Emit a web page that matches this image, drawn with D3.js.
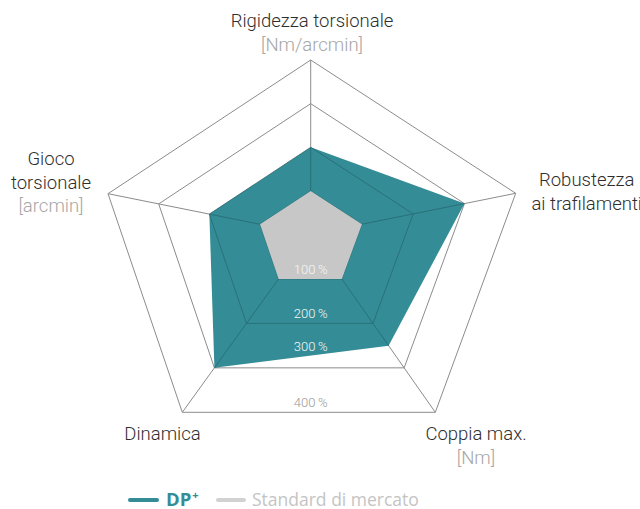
<!DOCTYPE html>
<html>
<head>
<meta charset="utf-8">
<script src="https://cdn.jsdelivr.net/npm/d3@7/dist/d3.min.js"></script>
<style>
  html, body { margin: 0; padding: 0; background: #fff; }
  svg { display: block; }
</style>
</head>
<body>
<svg id="chart" width="640" height="509"></svg>
<script>
// ---- data ----
const axisTitles = [
  ["Rigidezza torsionale"],
  ["Robustezza", "ai trafilamenti"],
  ["Coppia max."],
  ["Dinamica"],
  ["Gioco", "torsionale"]
];
const axisUnits = ["[Nm/arcmin]", "", "[Nm]", "", "[arcmin]"];
const dpPlus = [200, 300, 250, 300, 200];
const standard = [100, 100, 100, 100, 100];
const ringTicks = [100, 200, 300, 400];
const ringLabels = ["100\u2009%", "200\u2009%", "300\u2009%", "400\u2009%"];
const seriesNames = ["DP", "Standard di mercato"];

// ---- layout ----
const W = 640, H = 509;
const center = { x: 310.7, y: 234.5 };
// outer (400 %) vertex of each spoke, relative to the centre
const spokes = [
  { dx: 0, dy: -174.5 },
  { dx: 205, dy: -41.2 },
  { dx: 124.6, dy: 177.8 },
  { dx: -128.4, dy: 177.8 },
  { dx: -202.7, dy: -40.8 }
];
// first-line anchor of each axis title, relative to its outer vertex
const titleAnchor = [
  { dx: 1.3, dy: -33 },
  { dx: 71, dy: -7.3 },
  { dx: 40.7, dy: 27.7 },
  { dx: -19.8, dy: 27.7 },
  { dx: -57, dy: -28.7 }
];
const lineGap = 23.5;

const colors = {
  dp: "#348c96",
  dpGrid: "#2a7179",
  std: "#c6c7c6",
  grid: "#8c8c8c",
  title: "#2e2e2e",
  unit: "#a6a6a6",
  legendStd: "#c4c4c4"
};

const r = d3.scaleLinear().domain([0, d3.max(ringTicks)]).range([0, 1]);
const pt = (i, v) => [center.x + spokes[i].dx * r(v), center.y + spokes[i].dy * r(v)];
const ringPoints = v => spokes.map((_, i) => pt(i, v));
const closed = d3.line().curve(d3.curveLinearClosed);

const svg = d3.select("#chart");

function drawGrid(g, stroke) {
  g.selectAll("path.ring")
    .data(ringTicks)
    .join("path")
    .attr("class", "ring")
    .attr("d", v => closed(ringPoints(v)))
    .attr("fill", "none")
    .attr("stroke", stroke)
    .attr("stroke-width", 1);
  g.selectAll("line.spoke")
    .data(spokes.map((_, i) => i))
    .join("line")
    .attr("class", "spoke")
    .attr("x1", center.x).attr("y1", center.y)
    .attr("x2", i => pt(i, d3.max(ringTicks))[0])
    .attr("y2", i => pt(i, d3.max(ringTicks))[1])
    .attr("stroke", stroke)
    .attr("stroke-width", 1);
}

// grid under everything
drawGrid(svg.append("g"), colors.grid);

// DP+ area
const dpPath = closed(dpPlus.map((v, i) => pt(i, v)));
svg.append("path").attr("d", dpPath).attr("fill", colors.dp);

// grid lines seen through the DP+ area
svg.append("clipPath").attr("id", "dpClip").append("path").attr("d", dpPath);
drawGrid(svg.append("g").attr("clip-path", "url(#dpClip)"), colors.dpGrid);

// market standard area
svg.append("path")
  .attr("d", closed(standard.map((v, i) => pt(i, v))))
  .attr("fill", colors.std);

// ring labels, sitting just above the bottom edge of each ring
// (kept inside the DP+ area where that edge is covered by it)
function dpBottomAt(x) {
  const a = pt(3, dpPlus[3]), b = pt(2, dpPlus[2]);
  return a[1] + (b[1] - a[1]) * (x - a[0]) / (b[0] - a[0]);
}
svg.append("g")
  .selectAll("text")
  .data(ringTicks)
  .join("text")
  .attr("x", center.x)
  .attr("y", v => {
    const bottom = pt(3, v)[1];
    const inside = v < d3.max(ringTicks) && v > standard[0];
    return (inside ? Math.min(bottom, dpBottomAt(center.x)) : bottom) - 5;
  })
  .attr("text-anchor", "middle")
  .attr("font-family", "Roboto, 'Liberation Sans', sans-serif")
  .attr("font-weight", 300)
  .attr("font-size", 13)
  .attr("fill", v => v === d3.max(ringTicks) ? "#999999" : "#f7f7f7")
  .text((v, i) => ringLabels[i]);

// axis titles
const titles = svg.append("g")
  .attr("font-family", "Roboto, 'Liberation Sans', sans-serif")
  .attr("font-weight", 300)
  .attr("font-size", 18.5)
  .attr("text-anchor", "middle");
axisTitles.forEach((lines, i) => {
  const [vx, vy] = pt(i, d3.max(ringTicks));
  const x = vx + titleAnchor[i].dx, y = vy + titleAnchor[i].dy;
  lines.forEach((line, k) => {
    titles.append("text").attr("x", x).attr("y", y + k * lineGap)
      .attr("fill", colors.title).text(line);
  });
  if (axisUnits[i]) {
    titles.append("text").attr("x", x).attr("y", y + lines.length * lineGap)
      .attr("fill", colors.unit).text(axisUnits[i]);
  }
});

// legend
const legend = svg.append("g")
  .attr("font-family", "'Open Sans', sans-serif")
  .attr("font-size", 17.5);
legend.append("line")
  .attr("x1", 130).attr("x2", 157).attr("y1", 500).attr("y2", 500)
  .attr("stroke", colors.dp).attr("stroke-width", 4).attr("stroke-linecap", "round");
const dpText = legend.append("text").attr("x", 166).attr("y", 506)
  .attr("fill", colors.dp).attr("font-weight", 700).attr("font-size", 18.5);
dpText.append("tspan").text(seriesNames[0]);
dpText.append("tspan").attr("font-size", 11).attr("dx", 1).attr("dy", -7).text("+");
legend.append("line")
  .attr("x1", 218).attr("x2", 244).attr("y1", 500).attr("y2", 500)
  .attr("stroke", "#d2d2d2").attr("stroke-width", 4).attr("stroke-linecap", "round");
legend.append("text").attr("x", 252).attr("y", 506)
  .attr("fill", colors.legendStd).text(seriesNames[1]);
</script>
</body>
</html>
